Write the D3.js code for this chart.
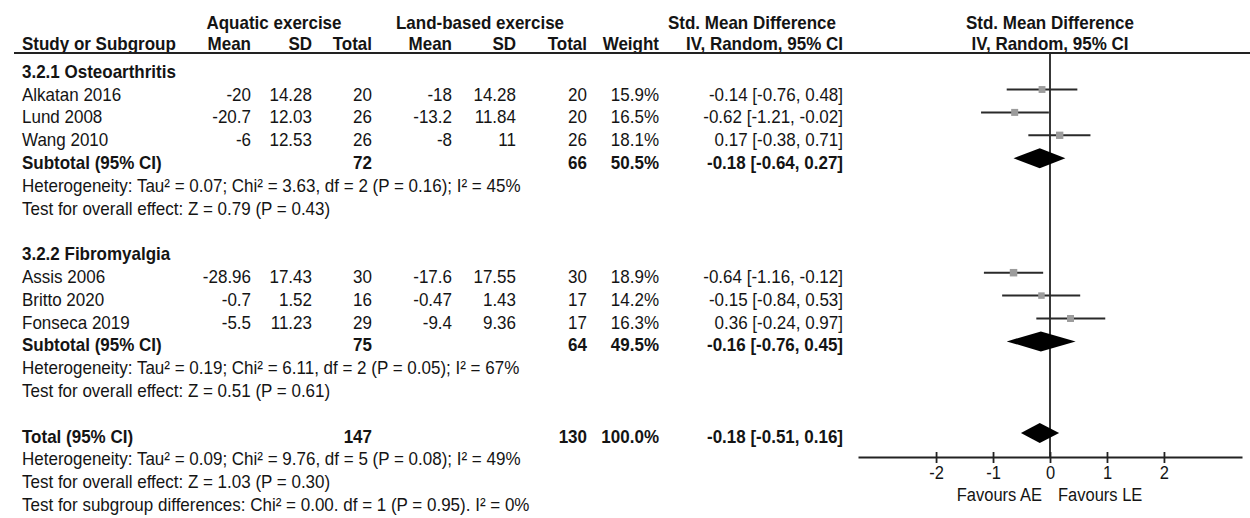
<!DOCTYPE html>
<html>
<head>
<meta charset="utf-8">
<script src="https://cdn.jsdelivr.net/npm/d3@7"></script>
<style>
  html, body { margin: 0; padding: 0; background: #fff; }
  svg { display: block; }
  text { font-family: "Liberation Sans", Arial, sans-serif; fill: #141414; }
</style>
</head>
<body>
<svg id="chart" width="1250" height="518"></svg>
<script>
// Study-level data
const studies  = ["Alkatan 2016", "Lund 2008", "Wang 2010", "Assis 2006", "Britto 2020", "Fonseca 2019"];
const studyGroup = [0, 0, 0, 1, 1, 1];
const aeMean   = [-20, -20.7, -6, -28.96, -0.7, -5.5];
const aeSD     = [14.28, 12.03, 12.53, 17.43, 1.52, 11.23];
const aeN      = [20, 26, 26, 30, 16, 29];
const leMean   = [-18, -13.2, -8, -17.6, -0.47, -9.4];
const leSD     = [14.28, 11.84, 11, 17.55, 1.43, 9.36];
const leN      = [20, 20, 26, 30, 17, 17];
const weights  = [15.9, 16.5, 18.1, 18.9, 14.2, 16.3];
const smd      = [-0.14, -0.62, 0.17, -0.64, -0.15, 0.36];
const ciLow    = [-0.76, -1.21, -0.38, -1.16, -0.84, -0.24];
const ciHigh   = [0.48, -0.02, 0.71, -0.12, 0.53, 0.97];

// Subgroup summaries
const groupNames = ["3.2.1 Osteoarthritis", "3.2.2 Fibromyalgia"];
const groupAeN   = [72, 75];
const groupLeN   = [66, 64];
const groupWeight = [50.5, 49.5];
const groupSmd   = [-0.18, -0.16];
const groupLow   = [-0.64, -0.76];
const groupHigh  = [0.27, 0.45];
const groupHet   = [
  "Heterogeneity: Tau² = 0.07; Chi² = 3.63, df = 2 (P = 0.16); I² = 45%",
  "Heterogeneity: Tau² = 0.19; Chi² = 6.11, df = 2 (P = 0.05); I² = 67%"
];
const groupTest  = [
  "Test for overall effect: Z = 0.79 (P = 0.43)",
  "Test for overall effect: Z = 0.51 (P = 0.61)"
];

// Overall summary
const totalAeN = 147, totalLeN = 130, totalWeight = 100.0;
const totalSmd = -0.18, totalLow = -0.51, totalHigh = 0.16;
const totalNotes = [
  "Heterogeneity: Tau² = 0.09; Chi² = 9.76, df = 5 (P = 0.08); I² = 49%",
  "Test for overall effect: Z = 1.03 (P = 0.30)",
  "Test for subgroup differences: Chi² = 0.00. df = 1 (P = 0.95). I² = 0%"
];

// Axis
const tickValues = [-2, -1, 0, 1, 2];
const favourLeft = "Favours AE", favourRight = "Favours LE";

const svg = d3.select("#chart");
const FS = 17;

// column anchors (right edges of numeric columns)
const col = {
  study: 22, aeMean: 251, aeSD: 312, aeN: 372,
  leMean: 452, leSD: 516, leN: 587, weight: 659, ci: 843
};

// row index -> text baseline, and -> marker centre
const rowText = d3.scaleLinear().domain([0, 1]).range([100.5, 123.3]);
const rowMark = d3.scaleLinear().domain([0, 1]).range([89.5, 112.4]);

const x = d3.scaleLinear().domain([-3.37, 3.37]).range([858, 1242]);
const axisY = 457;

function label(g, tx, ty, str, opts = {}) {
  g.append("text")
    .attr("transform", `translate(${tx},${ty}) scale(1,1.1)`)
    .attr("text-anchor", opts.anchor || "start")
    .attr("font-size", opts.size || FS)
    .attr("font-weight", opts.bold ? "bold" : "normal")
    .text(str);
}
const f2 = v => v.toFixed(2);
const ciText = (m, l, h) => `${f2(m)} [${f2(l)}, ${f2(h)}]`;

const table = svg.append("g");

// Header rows
label(table, 274, 29, "Aquatic exercise", { anchor: "middle", bold: true });
label(table, 480, 29, "Land-based exercise", { anchor: "middle", bold: true });
label(table, 752, 29, "Std. Mean Difference", { anchor: "middle", bold: true });
label(table, 1050, 29, "Std. Mean Difference", { anchor: "middle", bold: true });

label(table, col.study, 50, "Study or Subgroup", { bold: true });
label(table, col.aeMean, 50, "Mean", { anchor: "end", bold: true });
label(table, col.aeSD, 50, "SD", { anchor: "end", bold: true });
label(table, col.aeN, 50, "Total", { anchor: "end", bold: true });
label(table, col.leMean, 50, "Mean", { anchor: "end", bold: true });
label(table, col.leSD, 50, "SD", { anchor: "end", bold: true });
label(table, col.leN, 50, "Total", { anchor: "end", bold: true });
label(table, col.weight, 50, "Weight", { anchor: "end", bold: true });
label(table, col.ci, 50, "IV, Random, 95% CI", { anchor: "end", bold: true });
label(table, 1050, 50, "IV, Random, 95% CI", { anchor: "middle", bold: true });

svg.append("line")
  .attr("x1", 14).attr("x2", 1250).attr("y1", 53).attr("y2", 53)
  .attr("stroke", "#222").attr("stroke-width", 1.8);

// Build row layout: heading, studies, subtotal, two note lines, spacer
const studyRows = [], summaryRows = [];
let r = -1;
groupNames.forEach((name, gi) => {
  label(table, col.study, rowText(r), name, { bold: true });
  r++;
  studies.forEach((s, i) => {
    if (studyGroup[i] !== gi) return;
    studyRows.push({ i, row: r });
    r++;
  });
  summaryRows.push({ row: r, n1: groupAeN[gi], n2: groupLeN[gi], w: groupWeight[gi],
    m: groupSmd[gi], lo: groupLow[gi], hi: groupHigh[gi], name: "Subtotal (95% CI)" });
  r++;
  label(table, col.study, rowText(r), groupHet[gi]); r++;
  label(table, col.study, rowText(r), groupTest[gi]); r++;
  r++; // spacer row
});
summaryRows.push({ row: r, n1: totalAeN, n2: totalLeN, w: totalWeight,
  m: totalSmd, lo: totalLow, hi: totalHigh, name: "Total (95% CI)" });
totalNotes.forEach((t, k) => label(table, col.study, rowText(r + 1 + k), t));

// Study rows
studyRows.forEach(({ i, row }) => {
  const y = rowText(row);
  label(table, col.study, y, studies[i]);
  label(table, col.aeMean, y, String(aeMean[i]), { anchor: "end" });
  label(table, col.aeSD, y, String(aeSD[i]), { anchor: "end" });
  label(table, col.aeN, y, String(aeN[i]), { anchor: "end" });
  label(table, col.leMean, y, String(leMean[i]), { anchor: "end" });
  label(table, col.leSD, y, String(leSD[i]), { anchor: "end" });
  label(table, col.leN, y, String(leN[i]), { anchor: "end" });
  label(table, col.weight, y, weights[i].toFixed(1) + "%", { anchor: "end" });
  label(table, col.ci, y, ciText(smd[i], ciLow[i], ciHigh[i]), { anchor: "end" });
});

// Summary rows
summaryRows.forEach(d => {
  const y = rowText(d.row);
  label(table, col.study, y, d.name, { bold: true });
  label(table, col.aeN, y, String(d.n1), { anchor: "end", bold: true });
  label(table, col.leN, y, String(d.n2), { anchor: "end", bold: true });
  label(table, col.weight, y, d.w.toFixed(1) + "%", { anchor: "end", bold: true });
  label(table, col.ci, y, ciText(d.m, d.lo, d.hi), { anchor: "end", bold: true });
});

// Forest plot
const plot = svg.append("g");

// line of no effect
plot.append("line")
  .attr("x1", x(0)).attr("x2", x(0)).attr("y1", 53).attr("y2", axisY)
  .attr("stroke", "#222").attr("stroke-width", 1.8);

// confidence intervals
plot.selectAll(".ci").data(studyRows).join("line")
  .attr("x1", d => x(ciLow[d.i])).attr("x2", d => x(ciHigh[d.i]))
  .attr("y1", d => rowMark(d.row)).attr("y2", d => rowMark(d.row))
  .attr("stroke", "#2a2a2a").attr("stroke-width", 2);

// point estimates, sized by weight
const side = w => 7 * Math.sqrt(w / 16.5);
plot.selectAll(".pt").data(studyRows).join("rect")
  .attr("x", d => x(smd[d.i]) - side(weights[d.i]) / 2)
  .attr("y", d => rowMark(d.row) - side(weights[d.i]) / 2)
  .attr("width", d => side(weights[d.i]))
  .attr("height", d => side(weights[d.i]))
  .attr("fill", "#9c9c9c");

// pooled diamonds
plot.selectAll(".dia").data(summaryRows).join("path")
  .attr("d", d => {
    const y = rowMark(d.row), h = 10;
    return `M${x(d.lo)},${y}L${x(d.m)},${y - h}L${x(d.hi)},${y}L${x(d.m)},${y + h}Z`;
  })
  .attr("fill", "#000");

// x axis
const axis = plot.append("g")
  .attr("transform", `translate(0,${axisY})`)
  .call(d3.axisBottom(x).tickValues(tickValues).tickSize(6).tickSizeOuter(0).tickFormat(d => String(d)));
axis.select(".domain").attr("stroke", "#222").attr("stroke-width", 1.8);
axis.selectAll(".tick line").attr("y1", -5).attr("y2", 6).attr("stroke", "#222").attr("stroke-width", 1.8);
axis.selectAll(".tick text")
  .attr("y", 0).attr("dy", null)
  .attr("transform", "translate(0,22) scale(1,1.1)")
  .attr("font-family", "Liberation Sans, Arial, sans-serif")
  .attr("font-size", 16.5).attr("fill", "#141414");

label(plot, x(0) - 8, 501, favourLeft, { anchor: "end", size: 16.5 });
label(plot, x(0) + 8, 501, favourRight, { anchor: "start", size: 16.5 });
</script>
</body>
</html>
